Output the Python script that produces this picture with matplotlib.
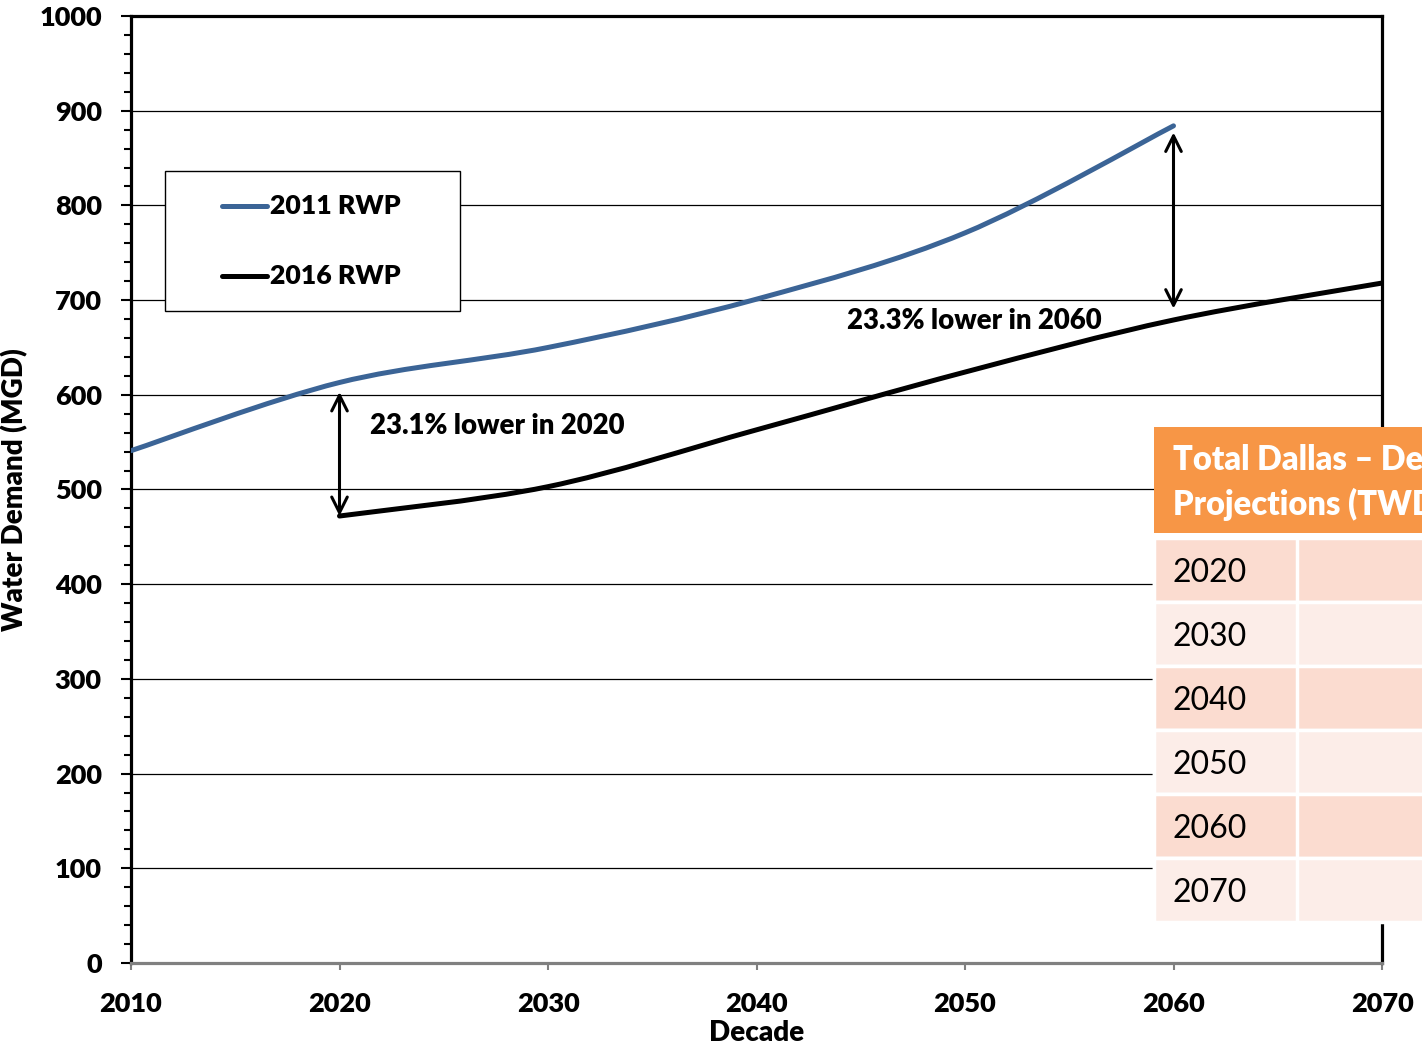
import matplotlib
matplotlib.use("Agg")
import matplotlib.pyplot as plt
import numpy as np
from matplotlib.path import Path
from matplotlib.patches import PathPatch, Rectangle
from matplotlib.lines import Line2D
from matplotlib.ticker import MultipleLocator

plt.rcParams['font.family'] = ['Lato', 'DejaVu Sans']

# ---- data ----
decades_2011 = [2010, 2020, 2030, 2040, 2050, 2060]
rwp_2011 = [541, 613, 650, 701, 771, 884]
decades_2016 = [2020, 2030, 2040, 2050, 2060, 2070]
rwp_2016 = [472, 503, 563, 624, 679, 718]
series_names = ['2011 RWP', '2016 RWP']
x_ticks = [2010, 2020, 2030, 2040, 2050, 2060, 2070]
y_ticks = [0, 100, 200, 300, 400, 500, 600, 700, 800, 900, 1000]
table_years = ['2020', '2030', '2040', '2050', '2060', '2070']
table_title = ['Total Dallas \u2013 Demand', 'Projections (TWDB)']

BLUE = '#3B6496'
BOLD = 'heavy'
W, H = 1422, 1048
fig = plt.figure(figsize=(W / 100, H / 100), dpi=100)
ax = fig.add_axes([131 / W, 1 - 963 / H, (1382 - 131) / W, (963 - 16) / H])


def smooth_path(xs, ys):
    pts = np.column_stack([xs, ys]).astype(float)
    n = len(pts)
    verts = [pts[0]]
    codes = [Path.MOVETO]
    for i in range(n - 1):
        p0 = pts[i - 1] if i > 0 else pts[i]
        p1 = pts[i]
        p2 = pts[i + 1]
        p3 = pts[i + 2] if i + 2 < n else pts[i + 1]
        c1 = p1 + (p2 - p0) / 6.0
        c2 = p2 - (p3 - p1) / 6.0
        verts += [c1, c2, p2]
        codes += [Path.CURVE4] * 3
    return Path(verts, codes)


ax.set_xlim(2010, 2070)
ax.set_ylim(0, 1000)
ax.set_xticks(x_ticks)
ax.set_yticks(y_ticks)
ax.yaxis.set_minor_locator(MultipleLocator(20))
ax.grid(axis='y', color='black', lw=0.9)
ax.set_axisbelow(True)

ax.add_patch(PathPatch(smooth_path(decades_2011, rwp_2011), fill=False,
                       edgecolor=BLUE, lw=3.6, capstyle='round', zorder=3))
ax.add_patch(PathPatch(smooth_path(decades_2016, rwp_2016), fill=False,
                       edgecolor='black', lw=3.6, capstyle='round', zorder=3))

for s in ['left', 'top', 'right']:
    ax.spines[s].set_linewidth(2.3)
    ax.spines[s].set_color('black')
ax.spines['bottom'].set_linewidth(2.3)
ax.spines['bottom'].set_color('#808080')

ax.tick_params(axis='y', which='major', length=7, width=1.5, direction='out',
               pad=14, labelsize=19.5, color='black')
ax.tick_params(axis='y', which='minor', length=5, width=1.5, direction='out', color='black')
ax.tick_params(axis='x', which='major', length=5, width=1.5, direction='out',
               pad=16, labelsize=19.5, color='#808080')
for lab in ax.get_xticklabels() + ax.get_yticklabels():
    lab.set_fontweight(BOLD)

fig.text(15 / W, 1 - 490 / H, 'Water Demand (MGD)', rotation=90, ha='center',
         va='center', fontsize=20, fontweight=BOLD)
fig.text(757 / W, 1 - 1033 / H, 'Decade', ha='center', va='center',
         fontsize=20, fontweight=BOLD)

# arrows
arrow_kw = dict(arrowstyle='<->', lw=2.2, color='black', mutation_scale=28,
                shrinkA=0, shrinkB=0)
ax.annotate('', xy=(2020, 472), xytext=(2020, 603), arrowprops=arrow_kw, zorder=4)
ax.annotate('', xy=(2060, 691), xytext=(2060, 877), arrowprops=arrow_kw, zorder=4)
ax.text(2021.45, 567, '23.1% lower in 2020', fontsize=19.8, fontweight=BOLD,
        ha='left', va='center')
ax.text(2044.35, 678, '23.3% lower in 2060', fontsize=19.8, fontweight=BOLD,
        ha='left', va='center')


def fx(x):
    return x / W


def fy(y):
    return 1 - y / H


# legend box
fig.add_artist(Rectangle((fx(165), fy(311)), (460 - 165) / W, (311 - 171) / H,
                         facecolor='white', edgecolor='black', lw=1.0,
                         transform=fig.transFigure, zorder=5))
for yy, col, name in [(206, BLUE, series_names[0]), (276, 'black', series_names[1])]:
    fig.add_artist(Line2D([fx(222), fx(267)], [fy(yy), fy(yy)], color=col, lw=3.6,
                          solid_capstyle='round', transform=fig.transFigure, zorder=6))
    fig.text(fx(270), fy(yy), name, fontsize=19.2, fontweight=BOLD, ha='left',
             va='center', zorder=6)

# table overlay
HEADER = '#F79646'
DARK = '#FBDCD0'
LIGHT = '#FCEDE8'
fig.add_artist(Rectangle((fx(1154), fy(533)), (1430 - 1154) / W, (533 - 427) / H,
                         facecolor=HEADER, edgecolor='none',
                         transform=fig.transFigure, zorder=7))
fig.text(fx(1173), fy(460), table_title[0], fontsize=23.5, fontweight=BOLD,
         color='white', ha='left', va='center', zorder=8)
fig.text(fx(1173), fy(504), table_title[1], fontsize=23.5, fontweight=BOLD,
         color='white', ha='left', va='center', zorder=8)
fig.add_artist(Rectangle((fx(1154), fy(538)), (1430 - 1154) / W, 5 / H,
                         facecolor='white', edgecolor='none',
                         transform=fig.transFigure, zorder=7))
row_top = 538
row_h = 64
for i, yr in enumerate(table_years):
    top = row_top + i * row_h
    col = DARK if i % 2 == 0 else LIGHT
    fig.add_artist(Rectangle((fx(1154), fy(top + row_h)), (1430 - 1154) / W, row_h / H,
                             facecolor=col, edgecolor='white', lw=2.5,
                             transform=fig.transFigure, zorder=7))
    fig.add_artist(Rectangle((fx(1154), fy(top + row_h)), (1297 - 1154) / W, row_h / H,
                             facecolor=col, edgecolor='white', lw=2.5,
                             transform=fig.transFigure, zorder=7))
    fig.text(fx(1173), fy(top + row_h / 2 + 3), yr, fontsize=23, color='black',
             ha='left', va='center', zorder=8)

fig.savefig('out.png', dpi=100)
